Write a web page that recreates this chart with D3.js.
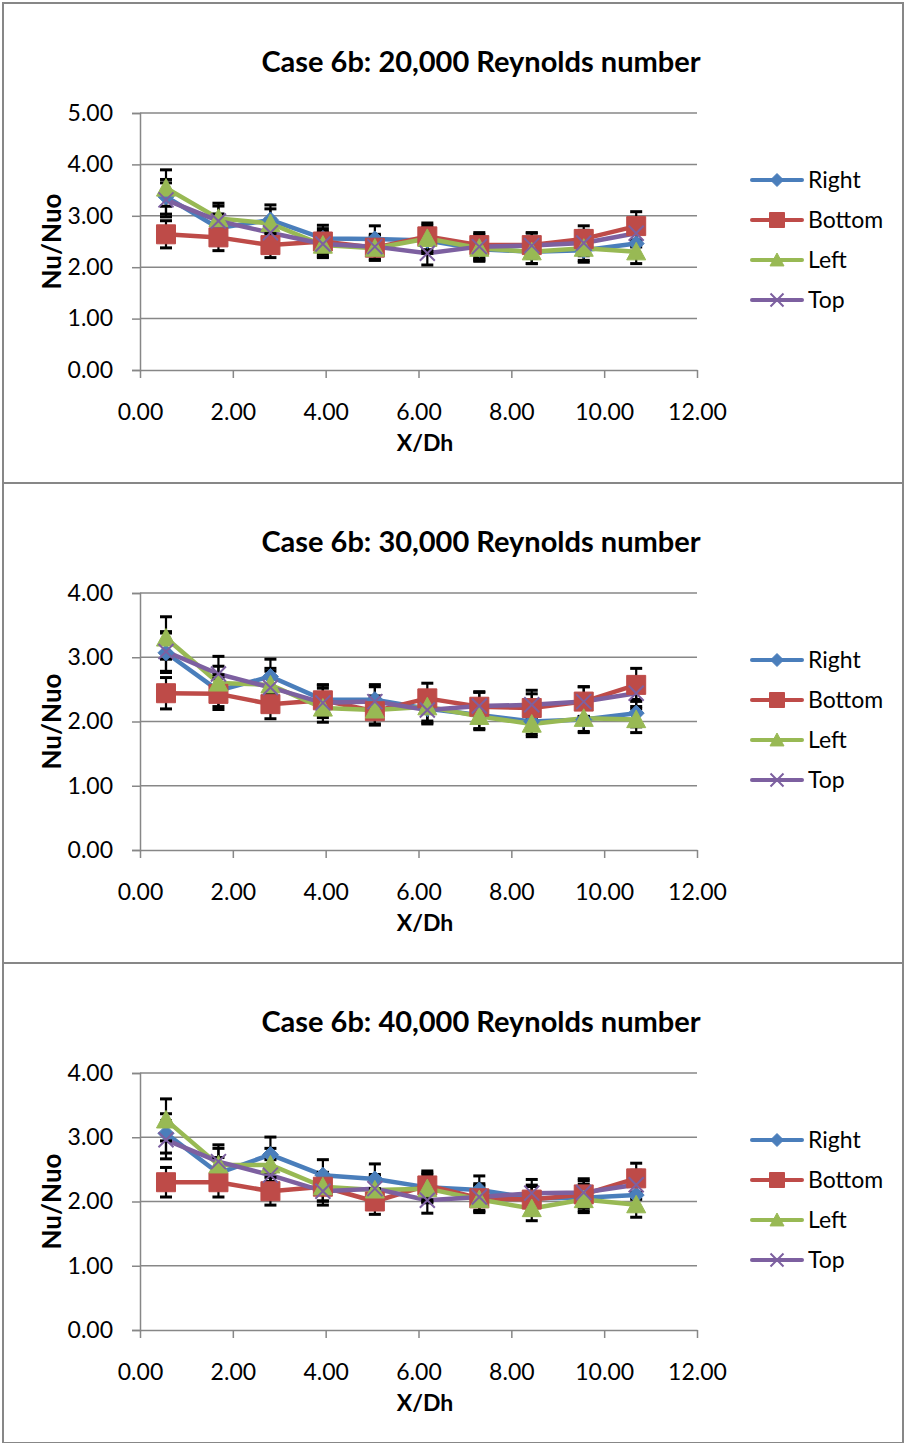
<!DOCTYPE html>
<html>
<head>
<meta charset="utf-8">
<script src="https://cdn.jsdelivr.net/npm/d3@7/dist/d3.min.js"></script>
<style>
  html, body { margin: 0; padding: 0; background: #fff; }
  svg text { font-family: Lato, "Open Sans", sans-serif; fill: #000; }
</style>
</head>
<body>
<svg id="chart" width="904" height="1443"></svg>
<script>
// Measurement stations along the duct (X/Dh)
const stations = [0.56, 1.69, 2.81, 3.94, 5.06, 6.19, 7.31, 8.44, 9.56, 10.69];
const xTicks = [0, 2, 4, 6, 8, 10, 12];
const seriesNames = ["Right", "Bottom", "Left", "Top"];
const seriesColors = ["#4A7EBB", "#BE4B48", "#98B954", "#7D60A0"];
const seriesShapes = ["diamond", "square", "triangle", "cross"];

// Re = 20,000
const right20  = [3.37, 2.76, 2.92, 2.56, 2.55, 2.52, 2.35, 2.30, 2.33, 2.46];
const bottom20 = [2.64, 2.58, 2.43, 2.50, 2.38, 2.60, 2.43, 2.43, 2.55, 2.80];
const left20   = [3.54, 2.95, 2.85, 2.43, 2.37, 2.56, 2.37, 2.30, 2.37, 2.30];
const top20    = [3.31, 2.90, 2.67, 2.45, 2.40, 2.27, 2.40, 2.42, 2.47, 2.66];

// Re = 30,000
const right30  = [3.07, 2.48, 2.70, 2.34, 2.34, 2.20, 2.10, 2.00, 2.03, 2.13];
const bottom30 = [2.44, 2.43, 2.27, 2.33, 2.16, 2.36, 2.23, 2.21, 2.31, 2.57];
const left30   = [3.30, 2.60, 2.57, 2.21, 2.18, 2.23, 2.08, 1.96, 2.05, 2.03];
const top30    = [3.09, 2.74, 2.53, 2.29, 2.31, 2.18, 2.24, 2.26, 2.31, 2.44];

// Re = 40,000
const right40  = [3.06, 2.44, 2.73, 2.41, 2.35, 2.22, 2.18, 2.05, 2.06, 2.10];
const bottom40 = [2.30, 2.30, 2.16, 2.23, 2.00, 2.25, 2.05, 2.03, 2.11, 2.36];
const left40   = [3.27, 2.57, 2.57, 2.23, 2.18, 2.20, 2.03, 1.89, 2.03, 1.95];
const top40    = [2.96, 2.62, 2.41, 2.16, 2.20, 2.02, 2.07, 2.13, 2.14, 2.26];

// Percentage error bars (uncertainty of Nu/Nuo)
const errorFraction = 0.10;

const panelTitles = [
  "Case 6b: 20,000 Reynolds number",
  "Case 6b: 30,000 Reynolds number",
  "Case 6b: 40,000 Reynolds number"
];
const panelYMax = [5, 4, 4];
const panelSeries = [
  [right20, bottom20, left20, top20],
  [right30, bottom30, left30, top30],
  [right40, bottom40, left40, top40]
];

const svg = d3.select("#chart");
const panelH = 480;
const plot = { left: 140, right: 697, top: 113, bottom: 370 };
const gridColor = "#878787";

function markerPath(shape, s) {
  const h = s / 2;
  switch (shape) {
    case "diamond":
      return `M0,${-h}L${h},0L0,${h}L${-h},0Z`;
    case "square":
      return `M${-h},${-h}H${h}V${h}H${-h}Z`;
    case "triangle":
      return `M0,${-h}L${h},${h * 0.85}L${-h},${h * 0.85}Z`;
    case "cross":
      return `M${-h},${-h}L${h},${h}M${h},${-h}L${-h},${h}`;
  }
}
const markerSize = { diamond: 16, square: 19, triangle: 19, cross: 15 };
const legendMarkerSize = { diamond: 13, square: 15, triangle: 14, cross: 13 };

function drawMarker(g, shape, color, size, x, y, crossWidth) {
  const p = g.append("path")
    .attr("d", markerPath(shape, size))
    .attr("transform", `translate(${x},${y})`);
  if (shape === "cross") {
    p.attr("fill", "none").attr("stroke", color).attr("stroke-width", crossWidth);
  } else {
    p.attr("fill", color).attr("stroke", color).attr("stroke-width", 1);
  }
}

const x = d3.scaleLinear().domain([0, 12]).range([plot.left, plot.right]);

panelTitles.forEach((title, pi) => {
  const g = svg.append("g").attr("transform", `translate(0,${pi * panelH})`);

  // panel frame
  g.append("rect")
    .attr("x", 3).attr("y", 3).attr("width", 900).attr("height", panelH)
    .attr("fill", "#fff").attr("stroke", gridColor).attr("stroke-width", 2);

  const y = d3.scaleLinear().domain([0, panelYMax[pi]]).range([plot.bottom, plot.top]);
  const yTicks = d3.range(0, panelYMax[pi] + 1, 1);

  // horizontal gridlines
  g.append("g").selectAll("line").data(yTicks.filter(t => t > 0)).join("line")
    .attr("x1", plot.left).attr("x2", plot.right)
    .attr("y1", d => y(d)).attr("y2", d => y(d))
    .attr("stroke", gridColor).attr("stroke-width", 1.5);

  // y axis
  const yAxis = g.append("g").attr("transform", `translate(${plot.left},0)`)
    .call(d3.axisLeft(y).tickValues(yTicks).tickFormat(d3.format(".2f")).tickSize(8).tickPadding(19));
  yAxis.select(".domain").attr("stroke", gridColor).attr("stroke-width", 1.5);
  yAxis.selectAll(".tick line").attr("stroke", gridColor).attr("stroke-width", 1.5);
  yAxis.selectAll(".tick text").attr("font-size", 23).attr("font-family", "Lato");

  // x axis
  const xAxis = g.append("g").attr("transform", `translate(0,${plot.bottom})`)
    .call(d3.axisBottom(x).tickValues(xTicks).tickFormat(d3.format(".2f")).tickSize(8).tickSizeOuter(0).tickPadding(26));
  xAxis.select(".domain").attr("stroke", gridColor).attr("stroke-width", 1.5);
  xAxis.selectAll(".tick line").attr("stroke", gridColor).attr("stroke-width", 1.5);
  xAxis.selectAll(".tick text").attr("font-size", 23).attr("font-family", "Lato");

  // titles
  g.append("text").attr("x", 481).attr("y", 72).attr("text-anchor", "middle")
    .attr("font-size", 29).attr("font-weight", "bold").text(title);
  g.append("text").attr("x", 425).attr("y", 451).attr("text-anchor", "middle")
    .attr("font-size", 23).attr("font-weight", "bold").text("X/Dh");
  g.append("text")
    .attr("transform", `translate(61,${(plot.top + plot.bottom) / 2}) rotate(-90)`)
    .attr("text-anchor", "middle")
    .attr("font-size", 26).attr("font-weight", "bold").text("Nu/Nuo");

  const series = panelSeries[pi];
  const line = d3.line().x((d, i) => x(stations[i])).y(d => y(d));

  // connecting lines
  series.forEach((vals, si) => {
    g.append("path").datum(vals).attr("d", line)
      .attr("fill", "none").attr("stroke", seriesColors[si])
      .attr("stroke-width", 4.5).attr("stroke-linejoin", "round").attr("stroke-linecap", "round");
  });

  // error bars
  const eg = g.append("g").attr("stroke", "#000").attr("stroke-width", 2.2);
  series.forEach(vals => {
    vals.forEach((v, i) => {
      const cx = x(stations[i]);
      const hi = y(v * (1 + errorFraction)), lo = y(v * (1 - errorFraction));
      eg.append("line").attr("x1", cx).attr("x2", cx).attr("y1", hi).attr("y2", lo);
      eg.append("line").attr("x1", cx - 6).attr("x2", cx + 6).attr("y1", hi).attr("y2", hi).attr("stroke-width", 3);
      eg.append("line").attr("x1", cx - 6).attr("x2", cx + 6).attr("y1", lo).attr("y2", lo).attr("stroke-width", 3);
    });
  });

  // markers
  series.forEach((vals, si) => {
    const mg = g.append("g");
    vals.forEach((v, i) => {
      drawMarker(mg, seriesShapes[si], seriesColors[si], markerSize[seriesShapes[si]], x(stations[i]), y(v), 2);
    });
  });

  // legend
  seriesNames.forEach((name, si) => {
    const ly = 180 + si * 40;
    const lg = g.append("g");
    lg.append("line").attr("x1", 752).attr("x2", 802).attr("y1", ly).attr("y2", ly)
      .attr("stroke", seriesColors[si]).attr("stroke-width", 4).attr("stroke-linecap", "round");
    drawMarker(lg, seriesShapes[si], seriesColors[si], legendMarkerSize[seriesShapes[si]], 777, ly, 2);
    lg.append("text").attr("x", 808).attr("y", ly).attr("dy", "0.35em")
      .attr("font-size", 23).text(name);
  });
});
</script>
</body>
</html>
